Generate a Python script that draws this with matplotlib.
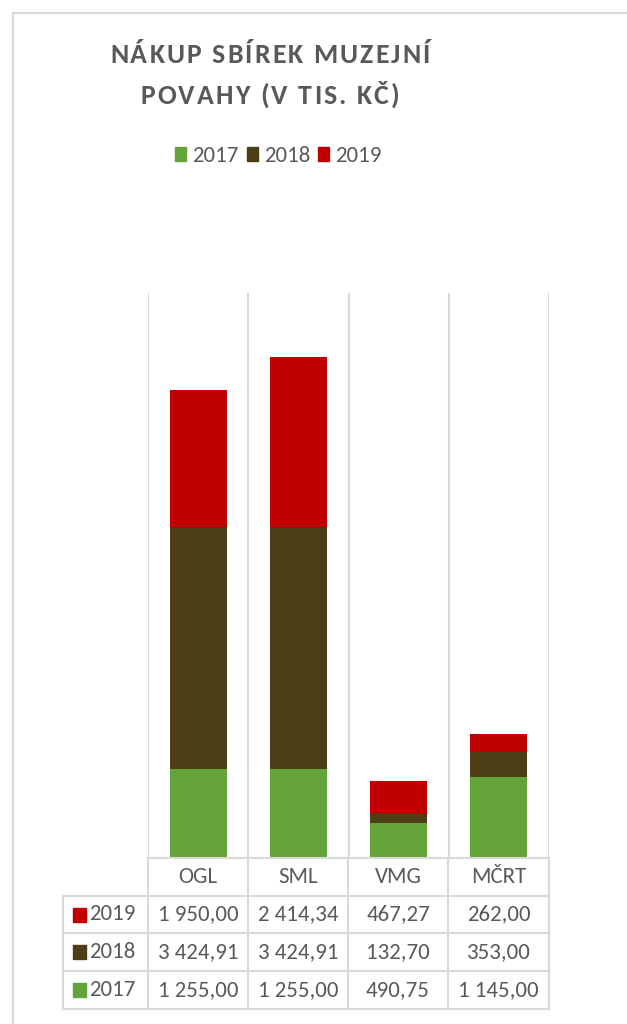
import numpy as np
import matplotlib
matplotlib.use("Agg")
import matplotlib.pyplot as plt
from matplotlib.lines import Line2D
from matplotlib.patches import Rectangle

# data
categories = ["OGL", "SML", "VMG", "MČRT"]
years = ["2017", "2018", "2019"]
v2017 = [1255.00, 1255.00, 490.75, 1145.00]
v2018 = [3424.91, 3424.91, 132.70, 353.00]
v2019 = [1950.00, 2414.34, 467.27, 262.00]
colors = {"2017": "#63A33A", "2018": "#4D3E17", "2019": "#C00000"}
title_lines = ["NÁKUP SBÍREK MUZEJNÍ", "POVAHY (V TIS. KČ)"]

W, H = 627, 1024
GRID = "#D9D9D9"
TXT = "#595959"
FONT = ["Carlito", "Lato", "DejaVu Sans"]
plt.rcParams["font.family"] = FONT
FS = 16.5

fig = plt.figure(figsize=(W / 100, H / 100), dpi=100)


def fx(x):
    return x / W


def fy(y):
    return 1 - y / H


# plot area in pixel coords
L, R, T, B = 148, 549, 293, 858
ax = fig.add_axes([fx(L), fy(B), fx(R) - fx(L), fy(T) - fy(B)])
x = np.arange(len(categories))
bottom = np.zeros(len(categories))
series = {"2017": v2017, "2018": v2018, "2019": v2019}
for yr in years:
    ax.bar(x, series[yr], 0.57, bottom=bottom, color=colors[yr], label=yr, zorder=3)
    bottom += np.array(series[yr])
ax.set_xlim(-0.5, len(categories) - 0.5)
ax.set_ylim(0, 8000)
for xv in np.arange(-0.5, len(categories), 1.0):
    ax.axvline(xv, color=GRID, lw=1.5, zorder=1)
ax.set_xticks([])
ax.set_yticks([])
for s in ax.spines.values():
    s.set_visible(False)

# outer chart border
fig.add_artist(Line2D([fx(13), fx(13)], [fy(13), fy(H + 5)], color=GRID, lw=1.5))
fig.add_artist(Line2D([fx(13), fx(W + 5)], [fy(13), fy(13)], color=GRID, lw=1.5))

# title with letter spacing
renderer = fig.canvas.get_renderer()


def make_chars(s, y, size):
    ts, widths = [], []
    for ch in s:
        t = fig.text(0, fy(y), ch, fontsize=size, fontweight="bold", color=TXT,
                     ha="left", va="baseline")
        w = t.get_window_extent(renderer).width if ch != " " else size * 1.389 * 0.226
        ts.append(t)
        widths.append(w)
    return ts, widths


def place(ts, widths, cx, spacing):
    total = sum(widths) + spacing * (len(ts) - 1)
    xpos = cx - total / 2
    for t, w in zip(ts, widths):
        t.set_x(fx(xpos))
        xpos += w + spacing


t1, w1 = make_chars(title_lines[0], 63, 20)
t2, w2 = make_chars(title_lines[1], 104, 20)
spacing = (320 - sum(w1)) / (len(t1) - 1)
spacing = max(spacing, 0)
place(t1, w1, 270, spacing)
place(t2, w2, 270, spacing)

# legend
leg_x = [175, 247, 318]
for yr, lx in zip(years, leg_x):
    fig.add_artist(Rectangle((fx(lx), fy(161)), fx(11), 14 / H, color=colors[yr],
                             transform=fig.transFigure))
    fig.text(fx(lx + 17), fy(162), yr, fontsize=FS, color=TXT, ha="left", va="baseline")

# data table
cols = [148, 248, 348, 448, 549]
rows = [858, 896, 933, 971, 1009]
left_col = 63
lw = 1.5
fig.add_artist(Line2D([fx(cols[0]), fx(cols[-1])], [fy(rows[0])] * 2, color=GRID, lw=lw))
for ry in rows[1:]:
    fig.add_artist(Line2D([fx(left_col), fx(cols[-1])], [fy(ry)] * 2, color=GRID, lw=lw))
for cx in cols:
    fig.add_artist(Line2D([fx(cx)] * 2, [fy(rows[0]), fy(rows[-1])], color=GRID, lw=lw))
fig.add_artist(Line2D([fx(left_col)] * 2, [fy(rows[1]), fy(rows[-1])], color=GRID, lw=lw))


def fmt(v):
    return f"{v:,.2f}".replace(",", " ").replace(".", ",")


for i, cat in enumerate(categories):
    cx = (cols[i] + cols[i + 1]) / 2
    fig.text(fx(cx), fy((rows[0] + rows[1]) / 2), cat, fontsize=FS, color=TXT,
             ha="center", va="center")

table_years = ["2019", "2018", "2017"]
for r, yr in enumerate(table_years):
    yc = (rows[r + 1] + rows[r + 2]) / 2
    fig.add_artist(Rectangle((fx(73), fy(yc + 7)), fx(13), 14 / H, color=colors[yr],
                             transform=fig.transFigure))
    fig.text(fx(89), fy(yc), yr, fontsize=FS, color=TXT, ha="left", va="center")
    for i, v in enumerate(series[yr]):
        cx = (cols[i] + cols[i + 1]) / 2
        fig.text(fx(cx), fy(yc), fmt(v), fontsize=FS, color=TXT, ha="center", va="center")

fig.savefig("out.png", dpi=100)
